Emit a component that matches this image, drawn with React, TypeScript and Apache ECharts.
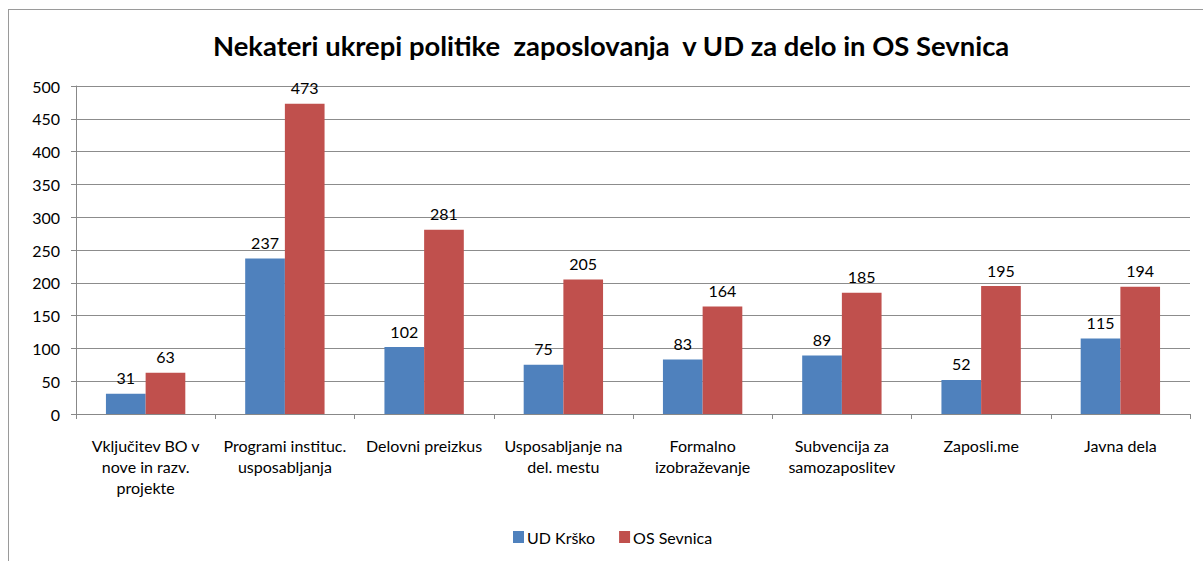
import React, { useEffect, useRef } from "react";
import * as echarts from "echarts";

const categories = [
  "Vključitev BO v\nnove in razv.\nprojekte",
  "Programi instituc.\nusposabljanja",
  "Delovni preizkus",
  "Usposabljanje na\ndel. mestu",
  "Formalno\nizobraževanje",
  "Subvencija za\nsamozaposlitev",
  "Zaposli.me",
  "Javna dela",
];
const udKrsko = [31, 237, 102, 75, 83, 89, 52, 115];
const osSevnica = [63, 473, 281, 205, 164, 185, 195, 194];
const seriesNames = ["UD Krško", "OS Sevnica"];
const titleText = "Nekateri ukrepi politike  zaposlovanja  v UD za delo in OS Sevnica";

const FONT = "Lato, 'Open Sans', sans-serif";

export default function App() {
  const ref = useRef<HTMLDivElement>(null);
  useEffect(() => {
    if (!ref.current) return;
    const chart = echarts.init(ref.current, null, { renderer: "svg" });
    chart.setOption({
      animation: false,
      backgroundColor: "#ffffff",
      textStyle: { fontFamily: FONT },
      title: {
        text: titleText,
        left: 208,
        top: 27,
        textStyle: { fontSize: 27.4, fontWeight: "bold", color: "#000", fontFamily: FONT },
      },
      graphic: [
        { type: "line", shape: { x1: 8, y1: 9.5, x2: 1203, y2: 9.5 }, style: { stroke: "#9a9a9a", lineWidth: 1 } },
        { type: "line", shape: { x1: 8.5, y1: 9, x2: 8.5, y2: 561 }, style: { stroke: "#9a9a9a", lineWidth: 1 } },
      ],
      legend: {
        data: seriesNames,
        bottom: 11,
        left: 508,
        itemWidth: 11,
        itemHeight: 12,
        itemGap: 24,
        icon: "rect",
        textStyle: { fontSize: 16, color: "#000", fontFamily: FONT, padding: [0, 0, 0, -2] },
      },
      grid: { left: 76, right: 13, top: 86, bottom: 147 },
      xAxis: {
        type: "category",
        data: categories,
        axisLine: { lineStyle: { color: "#888", width: 1 } },
        axisTick: { show: true, alignWithLabel: false, length: 5, lineStyle: { color: "#888" } },
        axisLabel: {
          interval: 0,
          margin: 21,
          fontSize: 16,
          lineHeight: 21,
          color: "#000",
          fontFamily: FONT,
        },
      },
      yAxis: {
        type: "value",
        min: 0,
        max: 500,
        interval: 50,
        axisLine: { show: true, lineStyle: { color: "#888", width: 1 } },
        axisTick: { show: true, length: 5, lineStyle: { color: "#888" } },
        splitLine: { lineStyle: { color: "#8c8c8c", width: 1 } },
        axisLabel: { fontSize: 16, color: "#000", margin: 16, fontFamily: FONT },
      },
      series: [
        {
          name: seriesNames[0],
          type: "bar",
          data: udKrsko,
          barGap: "0%",
          barCategoryGap: "43%",
          itemStyle: { color: "#4F81BD" },
          label: { show: true, position: "top", distance: 8, fontSize: 16, color: "#000", fontFamily: FONT },
        },
        {
          name: seriesNames[1],
          type: "bar",
          data: osSevnica,
          barGap: "0%",
          barCategoryGap: "43%",
          itemStyle: { color: "#C0504D" },
          label: { show: true, position: "top", distance: 8, fontSize: 16, color: "#000", fontFamily: FONT },
        },
      ],
    });
    return () => chart.dispose();
  }, []);
  return (
    <div
      ref={ref}
      style={{ position: "absolute", left: 0, top: 0, width: 1203, height: 561 }}
    />
  );
}
